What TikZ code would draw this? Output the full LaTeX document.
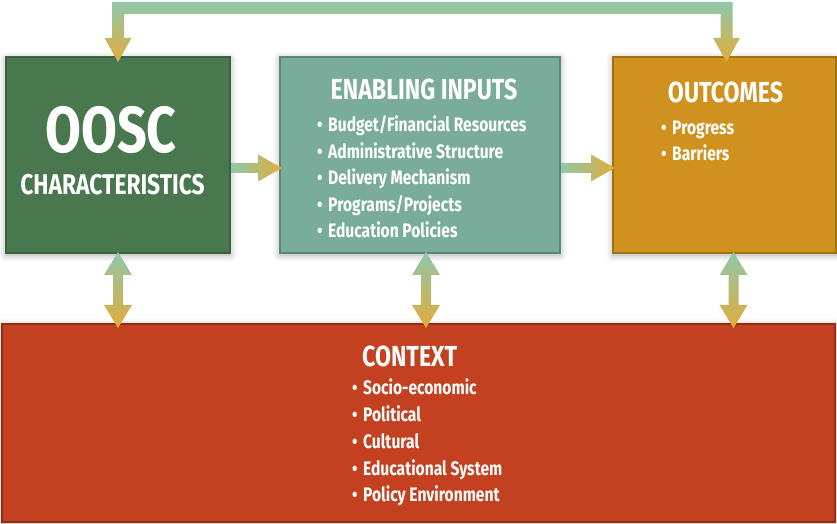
\documentclass[tikz,border=0pt]{standalone}
\usepackage{fontspec}
\setmainfont{Fira Sans}[FakeStretch=0.8]
\usetikzlibrary{calc,positioning,shadows.blur}

\definecolor{ooscgreen}{HTML}{4A784E}
\definecolor{ooscedge}{HTML}{3A623E}
\definecolor{enabteal}{HTML}{7AAC9C}
\definecolor{enabedge}{HTML}{5A8778}
\definecolor{outcgold}{HTML}{D0921E}
\definecolor{outcedge}{HTML}{A07014}
\definecolor{ctxred}{HTML}{C34120}
\definecolor{ctxedge}{HTML}{962C10}
\definecolor{arrowteal}{HTML}{8FC8AA}
\definecolor{arrowgold}{HTML}{E2AC3A}

\tikzset{%
	box/.style    = {draw, rectangle, line width=2pt, inner sep=0pt,
		blur shadow={shadow xshift=0pt, shadow yshift=-2pt, shadow blur radius=7pt, shadow opacity=35}},
	title/.style  = {text=white, font=\bfseries\fontsize{29}{29}\selectfont, inner sep=0pt, anchor=base}, % Box heading
	items/.style  = {text=white, font=\bfseries\fontsize{19.5}{19.5}\selectfont, inner sep=0pt, anchor=base west}, % Bullet line
	hshade/.style = {left color=arrowteal, right color=arrowgold},
	vshade/.style = {top color=arrowteal, bottom color=arrowgold},
}
\newcommand{\itm}{\makebox[11pt][l]{•}}

\begin{document}
\begin{tikzpicture}[x=1pt, y=1pt, node distance=48pt]
	\useasboundingbox (0,0) rectangle (837,524);
	\clip (0,0) rectangle (837,524);
	
	% boxes
	\node[box, fill=ooscgreen, draw=ooscedge, minimum width=224pt, minimum height=196pt, anchor=north west] (oosc) at (5,468) {};
	\node[box, fill=enabteal, draw=enabedge, minimum width=280pt, minimum height=196pt, right=48pt of oosc] (enab) {};
	\node[box, fill=outcgold, draw=outcedge, minimum width=223pt, minimum height=196pt, right=51pt of enab] (outc) {};
	\node[box, fill=ctxred, draw=ctxedge, minimum width=833pt, minimum height=198pt, below right=69pt and -4pt of oosc.south west] (ctx) {};
	
	% texts
	\node[title, font=\bfseries\fontsize{65}{65}\selectfont] (oosct) at ([xshift=-7pt, yshift=-97pt]oosc.north) {OOSC};
	\node[title, font=\bfseries\fontsize{28.5}{28.5}\selectfont] (ooscc) at ([xshift=-5.5pt, yshift=-139pt]oosc.north) {CHARACTERISTICS};
	
	\node[title] (enabt) at ([xshift=4pt, yshift=-44pt]enab.north) {ENABLING INPUTS};
	\foreach \t [count=\i] in {Budget/Financial Resources, Administrative Structure, Delivery Mechanism, Programs/Projects, Education Policies}
		\node[items] (enab-\i) at ([xshift=38pt, yshift=-49.6pt-\i*26.4pt]enab.north west) {\itm \t};
	
	\node[title] (outct) at ([xshift=1pt, yshift=-47pt]outc.north) {OUTCOMES};
	\foreach \t [count=\i] in {Progress, Barriers}
		\node[items] (outc-\i) at ([xshift=49pt, yshift=-53pt-\i*26pt]outc.north west) {\itm \t};
	
	\node[title, anchor=base west] (ctxt) at ([xshift=361pt, yshift=-44pt]ctx.north west) {CONTEXT};
	\foreach \t [count=\i] in {Socio-economic, Political, Cultural, Educational System, Policy Environment}
		\node[items] (ctx-\i) at ([xshift=351pt, yshift=-45.3pt-\i*26.7pt]ctx.north west) {\itm \t};
	
	% arrows
	\foreach \a/\b in {oosc/enab, enab/outc}
		\shade[hshade] ($(\a.east)+(0,-8)$) -- ($(\b.west)+(-21,-8)$) -- ++(0,8.5) -- ($(\b.west)+(3,-13)$) -- ++(-24,-13.5) -- ++(0,8.5) -- ($(\a.east)+(0,-18)$) -- cycle;
	
	\foreach \a/\dx in {oosc/0, enab/6, outc/9} {
		\coordinate (t) at ($(\a.south)+(\dx,2)$);
		\coordinate (b) at ($(t |- ctx.north)+(0,-5)$);
		\shade[vshade] (t) -- ++(14,-23) -- ++(-9,0) -- ($(b)+(5,23)$) -- ++(9,0) -- (b) -- ++(-14,23) -- ++(9,0) -- ($(t)+(-5,-23)$) -- ++(-9,0) -- cycle;
	}
	
	\coordinate (l) at ($(oosc.north)+(0,-6)$);
	\coordinate (r) at ($(outc.north)+(2,-6)$);
	\shade[vshade] (l) -- ++(-13.5,24) -- ++(7.5,0) -- ($(l)+(-6,60)$) -- ($(r)+(6,60)$) -- ($(r)+(6,24)$) -- ++(7.5,0) -- (r) -- ++(-13.5,24) -- ++(7.5,0) -- ($(r)+(-6,48)$) -- ($(l)+(6,48)$) -- ($(l)+(6,24)$) -- ++(7.5,0) -- cycle;
\end{tikzpicture}
\end{document}
